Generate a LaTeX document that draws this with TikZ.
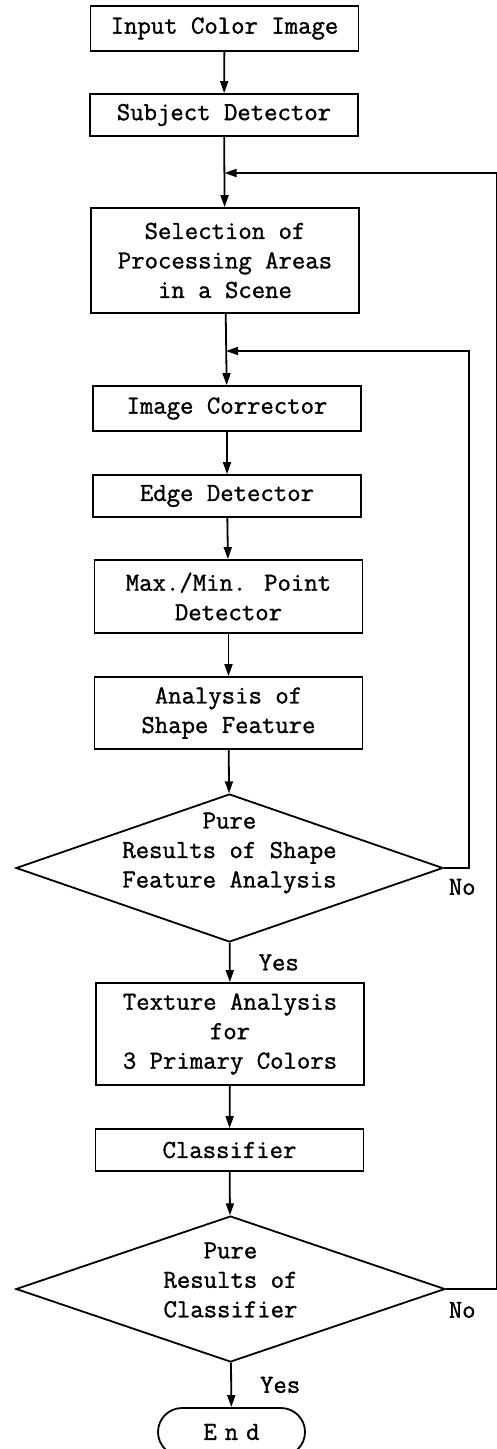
\documentclass[tikz,border=0pt]{standalone}
\usepackage{fontspec}
\newfontfamily\flowfont[FakeBold=1.2]{Latin Modern Mono}
\usetikzlibrary{shapes.geometric,shapes.misc,arrows.meta}

\begin{document}
\begin{tikzpicture}[x=0.5pt, y=-0.5pt, line width=0.9pt,
  font=\flowfont\fontsize{13pt}{14.75pt}\selectfont,
  box/.style={draw, minimum width=134pt, inner sep=0pt, align=center},
  decision/.style={draw, diamond, inner sep=0pt},
  terminal/.style={draw, rounded rectangle, minimum width=73.5pt, minimum height=24pt, inner sep=0pt},
  arrow/.style={-{Triangle[length=6pt,width=4pt]}}]
\useasboundingbox (0,0) rectangle (497,1449);
\node[box, minimum height=22.5pt] (P_0) at (224.5,28.5) {Input Color Image};
\node[box, minimum height=21pt] (P_1) at (224,115) {Subject Detector};
\draw[arrow] (P_0) -- (P_1);
\coordinate (M_1) at (224.5,173);
\node[box, minimum height=52.5pt] (P_2) at (225,260.5) {Selection of\\Processing Areas\\in a Scene};
\draw[arrow] (P_1) -- (P_2);
\coordinate (M_2) at (226,351);
\node[box, minimum height=22.5pt] (P_3) at (227,408.5) {Image Corrector};
\draw[arrow] (P_2) -- (P_3);
\node[box, minimum height=21pt] (P_4) at (227,496) {Edge Detector};
\draw[arrow] (P_3) -- (P_4);
\node[box, minimum height=36.5pt] (P_5) at (228.5,596.5) {Max./Min. Point\\Detector};
\draw[arrow] (P_4) -- (P_5);
\node[box, minimum height=36pt] (P_6) at (228.5,713) {Analysis of\\Shape Feature};
\draw[arrow] (P_5) -- (P_6);
\node[decision, minimum width=213.5pt, minimum height=74pt,
  label={[yshift=7.5pt, align=center]center:{Pure\\Results of Shape\\Feature Analysis}}] (D_1) at (229.5,868) {};
\draw[arrow] (P_6) -- (D_1);
\draw[arrow] (D_1.east) node[below right, inner xsep=2pt, inner ysep=5pt] {No} -- ++(25,0) |- (M_2);
\node[box, minimum height=51pt] (P_7) at (230,1034) {Texture Analysis\\for\\3 Primary Colors};
\draw[arrow] (D_1) -- (P_7) node[midway, right, xshift=14pt, inner sep=0pt] {Yes};
\node[box, minimum height=21pt] (P_8) at (229.5,1150) {Classifier};
\draw[arrow] (P_7) -- (P_8);
\node[decision, minimum width=214.5pt, minimum height=73pt,
  label={[yshift=4.5pt, align=center]center:{Pure\\Results of\\Classifier}}] (D_2) at (230.5,1289) {};
\draw[arrow] (P_8) -- (D_2);
\draw[arrow] (D_2.east) node[below right, inner xsep=1pt, inner ysep=6pt] {No} -- ++(50.5,0) |- (M_1);
\node[terminal] (P_9) at (231.5,1432) {E\kern4pt n\kern4pt d};
\draw[arrow] (D_2) -- (P_9) node[midway, right, xshift=14pt, inner sep=0pt] {Yes};
\end{tikzpicture}
\end{document}
